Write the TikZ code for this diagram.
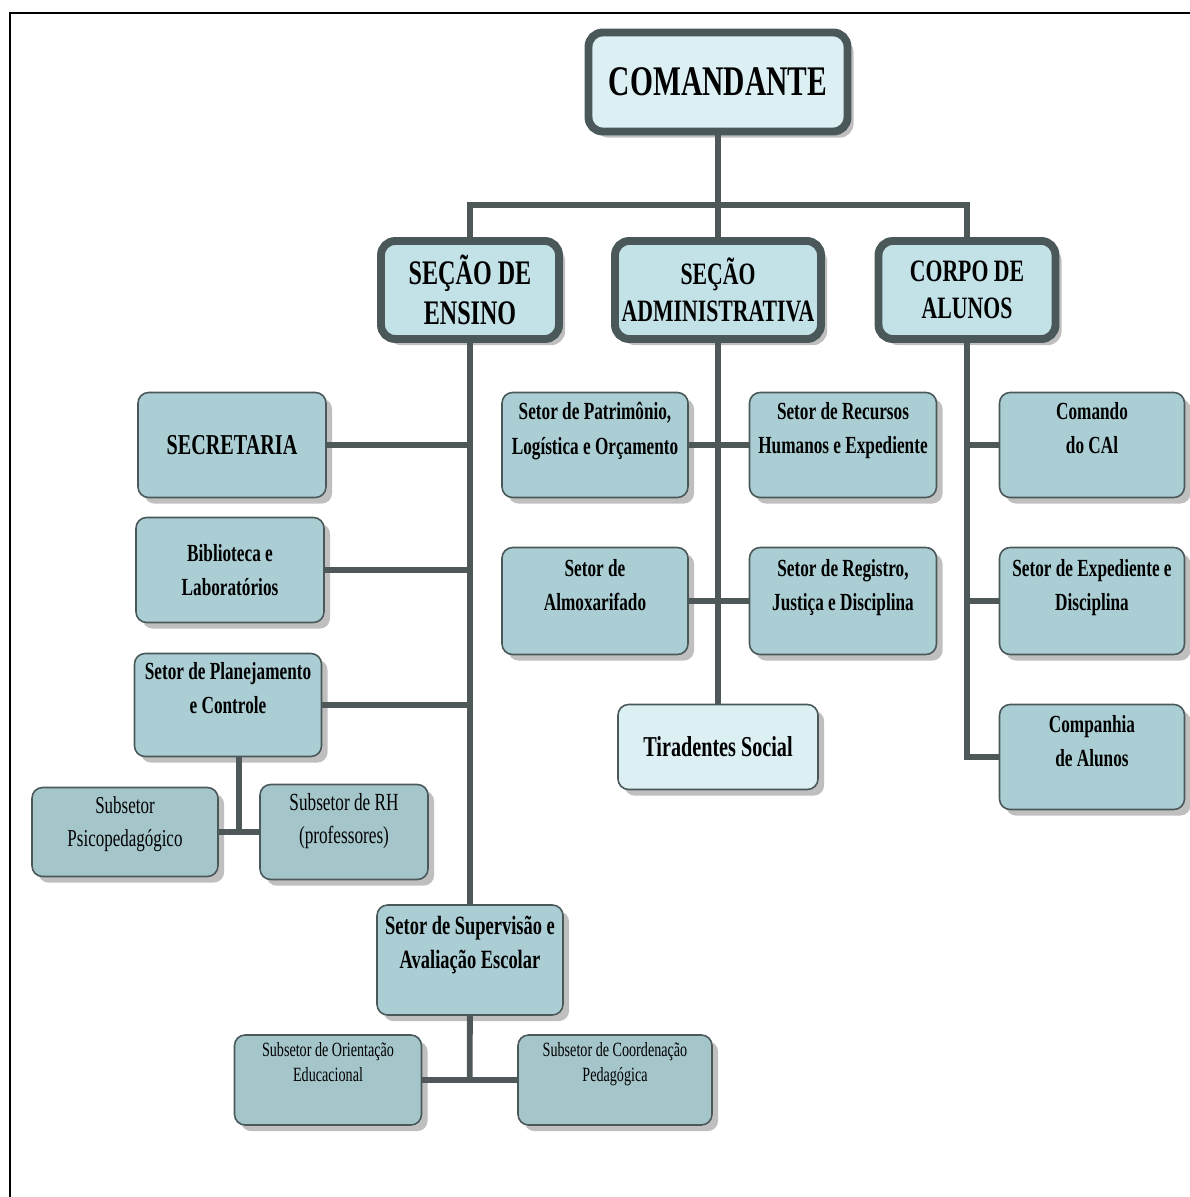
\documentclass[tikz,border=0pt]{standalone}
\usepackage{fontspec}
\setmainfont{Liberation Serif}[FakeStretch=0.7]
\usepackage{tikz}
\usetikzlibrary{
    calc,
    shadows
}
\definecolor{boxline}{HTML}{4A5859}
\definecolor{linkgray}{HTML}{4E5858}
\definecolor{chieffill}{HTML}{DCEFF3}
\definecolor{headfill}{HTML}{C2E2E8}
\definecolor{sectorfill}{HTML}{AACED4}
\definecolor{subfill}{HTML}{A4C5CA}
\tikzset{
    box/.style={rectangle, rounded corners=6pt, draw=boxline, line width=0.9pt,
        inner sep=0pt, align=center,
        drop shadow={shadow xshift=3.5pt, shadow yshift=-3.5pt, fill=black!50, opacity=0.5}},
    chiefbox/.style={box, rounded corners=8pt, line width=4.5pt, fill=chieffill,
        minimum width=5.18cm, minimum height=1.98cm,
        font=\bfseries\fontsize{24}{28}\selectfont},
    headbox/.style={box, rounded corners=8pt, line width=4.5pt, fill=headfill,
        minimum height=1.96cm, font=\bfseries\fontsize{17.7}{21}\selectfont},
    sectorbox/.style={box, fill=sectorfill, minimum width=3.74cm, minimum height=2.1cm,
        font=\bfseries\fontsize{14}{19.5}\selectfont},
    subbox/.style={box, fill=subfill, minimum height=1.8cm,
        font=\fontsize{13.8}{18.7}\selectfont},
    lift/.style={execute at end node={\rule[-#1]{0pt}{#1}}},
    link/.style={draw=linkgray, line width=3.3pt}
}

\begin{document}
\begin{tikzpicture}[x=0.02cm, y=-0.02cm]
    \useasboundingbox (0,0) rectangle (1190,1197);
    \draw[line width=1.7pt] (10,1197) -- (10,13) -- (1190,13);

    \node[chiefbox] (cmd) at (718,82) {COMANDANTE};
    \node[headbox, minimum width=3.56cm, font=\bfseries\fontsize{19.6}{22.7}\selectfont]
        (ensino) at (470,290) {SEÇÃO DE\\ENSINO};
    \node[headbox, minimum width=4.12cm] (admin) at (718,290) {SEÇÃO\\ADMINISTRATIVA};
    \node[headbox, minimum width=3.54cm] (corpo) at (967,290) {CORPO DE\\ALUNOS};

    \coordinate (bus) at (718,205);
    \draw[link] (cmd) -- (bus);
    \draw[link] (ensino) |- (bus) -| (corpo);
    \draw[link] (bus) -- (admin);

    \begin{scope}[shift={(470,0)}]
        \node[sectorbox, minimum width=3.76cm, font=\bfseries\fontsize{16.4}{19.5}\selectfont]
            (secretaria) at (-238,445) {SECRETARIA};
        \node[sectorbox, minimum width=3.76cm] (biblioteca) at (-240,570) {Biblioteca e\\Laboratórios};
        \node[sectorbox, minimum height=2.06cm, lift=19pt] (plan) at (-242,705) {Setor de Planejamento\\e Controle};
        \node[subbox, minimum width=3.72cm, minimum height=1.78cm, lift=12pt]
            (psico) at (-345,832) {Subsetor\\Psicopedagógico};
        \node[subbox, minimum width=3.36cm, minimum height=1.9cm, lift=15.5pt, font=\fontsize{14}{18.7}\selectfont]
            (rh) at (-126,832) {Subsetor de RH\\(professores)};
        \node[sectorbox, minimum width=3.72cm, minimum height=2.2cm, lift=20pt, font=\bfseries\fontsize{15}{19.3}\selectfont]
            (superv) at (0,960) {Setor de Supervisão e\\Avaliação Escolar};
        \node[subbox, minimum width=3.74cm, lift=20pt, font=\fontsize{11.5}{14.2}\selectfont]
            (orient) at (-142,1080) {Subsetor de Orientação\\Educacional};
        \node[subbox, minimum width=3.88cm, lift=21pt, font=\fontsize{11.5}{14.2}\selectfont]
            (coord) at (145,1080) {Subsetor de Coordenação\\Pedagógica};
    \end{scope}

    \draw[link] (ensino) -- (superv);
    \draw[link] (secretaria) -- (secretaria -| ensino);
    \draw[link] (biblioteca) -- (biblioteca -| ensino);
    \draw[link] (plan) -- (plan -| ensino);
    \coordinate (pj) at ($(psico.east)!.5!(rh.west)$);
    \draw[link] (plan.south -| pj) -- (pj);
    \draw[link] (psico) -- (rh);
    \coordinate (sj) at ($(orient.east)!.5!(coord.west)$);
    \draw[link] (superv) -- (sj);
    \draw[link] (orient) -- (coord);

    \begin{scope}[shift={(718,0)}]
        \node[sectorbox, minimum width=3.72cm, lift=19pt] (patrimonio) at (-123,445) {Setor de Patrimônio,\\Logística e Orçamento};
        \node[sectorbox, lift=19pt] (recursos) at (125,445) {Setor de Recursos\\Humanos e Expediente};
        \node[sectorbox, minimum width=3.72cm, minimum height=2.14cm, lift=18pt] (almox) at (-123,601) {Setor de\\Almoxarifado};
        \node[sectorbox, minimum height=2.14cm, lift=18pt] (registro) at (125,601) {Setor de Registro,\\Justiça e Disciplina};
        \node[sectorbox, fill=chieffill, minimum width=4cm, minimum height=1.7cm, font=\bfseries\fontsize{16.4}{19.5}\selectfont]
            (tiradentes) at (0,747) {Tiradentes Social};
    \end{scope}

    \draw[link] (admin) -- (tiradentes);
    \draw[link] (patrimonio) -- (recursos);
    \draw[link] (almox) -- (registro);

    \begin{scope}[shift={(967,0)}]
        \node[sectorbox, minimum width=3.7cm, lift=19pt] (comando) at (125,445) {Comando\\do CAl};
        \node[sectorbox, minimum width=3.7cm, minimum height=2.14cm, lift=18pt] (expediente) at (125,601) {Setor de Expediente e\\Disciplina};
        \node[sectorbox, minimum width=3.7cm, lift=18pt] (companhia) at (125,757) {Companhia\\de Alunos};
    \end{scope}

    \draw[link] (corpo) |- (companhia);
    \draw[link] (comando -| corpo) -- (comando);
    \draw[link] (expediente -| corpo) -- (expediente);
\end{tikzpicture}
\end{document}
